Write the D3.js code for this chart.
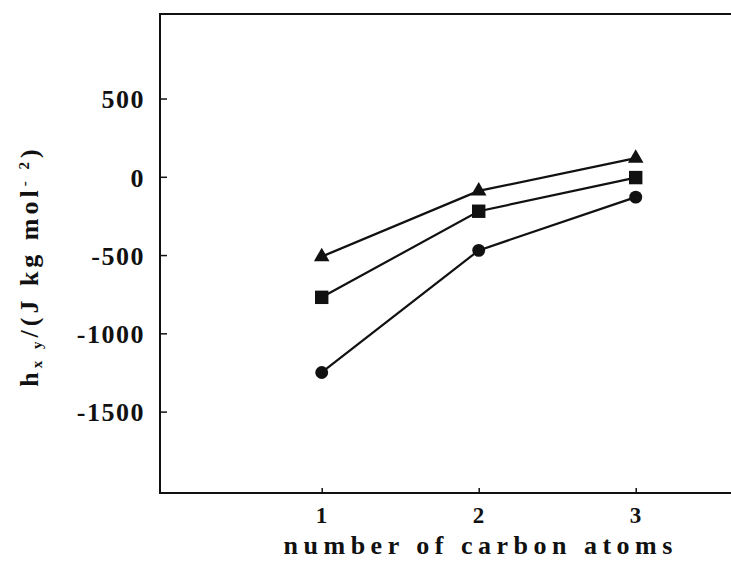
<!DOCTYPE html>
<html>
<head>
<meta charset="utf-8">
<script src="https://cdn.jsdelivr.net/npm/d3@7"></script>
<style>
  body { margin: 0; background: #fff; }
  svg { display: block; }
  .lbl { font-family: "Liberation Serif", "DejaVu Serif", serif; font-weight: bold; fill: #111; }
</style>
</head>
<body>
<div id="chart"></div>
<script>
// chart data
const carbons = [1, 2, 3];
const triangleVals = [-510, -90, 119];
const squareVals = [-770, -220, -5];
const circleVals = [-1250, -470, -130];
const yTicks = [500, 0, -500, -1000, -1500];
const xTicks = [1, 2, 3];

const svgWidth = 731;
const svgHeight = 573;

const svg = d3.select("#chart")
  .append("svg")
  .attr("width", svgWidth)
  .attr("height", svgHeight);

svg.append("rect")
  .attr("width", svgWidth)
  .attr("height", svgHeight)
  .attr("fill", "#fff");

// scales (frame continues past the right edge of the picture)
const xScale = d3.scaleLinear()
  .domain([-0.03, 4])
  .range([160, 160 + 157 * 4.03]);

const yScale = d3.scaleLinear()
  .domain([-2020, 1040])
  .range([493, 14]);

// frame
svg.append("path")
  .attr("d", `M${svgWidth + 5},14 H160 V493 H${svgWidth + 5}`)
  .attr("fill", "none")
  .attr("stroke", "#111")
  .attr("stroke-width", 2);

// axes with inward ticks
const leftAxis = d3.axisLeft(yScale)
  .tickValues(yTicks)
  .tickFormat(d => d < 0 ? "-" + Math.abs(d) : String(d))
  .tickSizeInner(-7)
  .tickSizeOuter(0)
  .tickPadding(15);

const bottomAxis = d3.axisBottom(xScale)
  .tickValues(xTicks)
  .tickFormat(d3.format("d"))
  .tickSizeInner(-5)
  .tickSizeOuter(0)
  .tickPadding(14);

const gy = svg.append("g")
  .attr("transform", "translate(160,0)")
  .call(leftAxis);

const gx = svg.append("g")
  .attr("transform", "translate(0,493)")
  .call(bottomAxis);

[gx, gy].forEach(g => {
  g.select(".domain").remove();
  g.selectAll(".tick line").attr("stroke", "#111").attr("stroke-width", 1.5);
  g.selectAll(".tick text")
    .classed("lbl", true)
    .style("letter-spacing", "1.5px")
    .attr("fill", "#111");
});
gy.selectAll(".tick text").attr("dy", "0.36em").style("font-size", "26px");
gx.selectAll(".tick text").style("font-size", "23px");

// series
const series = [
  { vals: triangleVals, type: d3.symbolTriangle, size: 105 },
  { vals: squareVals, type: d3.symbolSquare, size: 180 },
  { vals: circleVals, type: d3.symbolCircle, size: 130 }
];

const line = d3.line()
  .x(d => xScale(d[0]))
  .y(d => yScale(d[1]));

series.forEach(s => {
  const pts = carbons.map((c, i) => [c, s.vals[i]]);

  svg.append("path")
    .datum(pts)
    .attr("d", line)
    .attr("fill", "none")
    .attr("stroke", "#111")
    .attr("stroke-width", 2.2);

  svg.selectAll(null)
    .data(pts)
    .enter()
    .append("path")
    .attr("transform", d => `translate(${xScale(d[0])},${yScale(d[1])})`)
    .attr("d", d3.symbol().type(s.type).size(s.size))
    .attr("fill", "#111");
});

// axis titles
svg.append("text")
  .attr("class", "lbl")
  .attr("x", xScale(2) + 2)
  .attr("y", 554)
  .attr("text-anchor", "middle")
  .style("font-size", "26px")
  .style("letter-spacing", "5.5px")
  .text("number of carbon atoms");

const yTitle = svg.append("text")
  .attr("class", "lbl")
  .attr("transform", "translate(38,266) rotate(-90)")
  .attr("text-anchor", "middle")
  .style("font-size", "26px")
  .style("letter-spacing", "4px");

yTitle.append("tspan").text("h");
yTitle.append("tspan").attr("dy", 4).style("font-size", "15px").text("x y");
yTitle.append("tspan").attr("dy", -4).text("/(J  kg  mol");
yTitle.append("tspan").attr("dy", -9).style("font-size", "15px").text("- 2");
yTitle.append("tspan").attr("dy", 9).text(")");
</script>
</body>
</html>
